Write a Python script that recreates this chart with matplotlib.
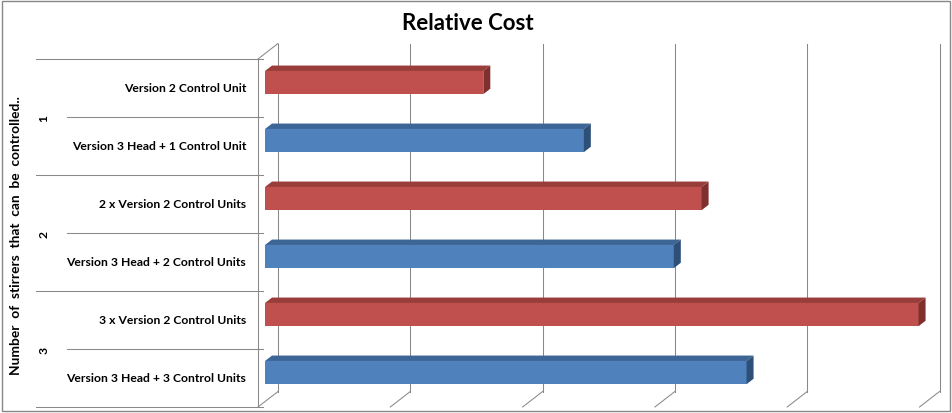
"""Relative cost of stirrer control options, drawn as an Excel-style 3D bar chart."""

import matplotlib

matplotlib.use("Agg")
import matplotlib.pyplot as plt  # noqa: E402
from matplotlib.patches import Polygon, Rectangle  # noqa: E402

# ---- data -------------------------------------------------------------
group_labels = ["1", "2", "3"]
option_labels = [
    "Version 2 Control Unit",
    "Version 3 Head + 1 Control Unit",
    "2 x Version 2 Control Units",
    "Version 3 Head + 2 Control Units",
    "3 x Version 2 Control Units",
    "Version 3 Head + 3 Control Units",
]
option_series = ["v2", "v3", "v2", "v3", "v2", "v3"]
relative_cost = [1.65, 2.41, 3.30, 3.09, 4.94, 3.64]
n_gridlines = 6  # value gridlines 0..5
axis_title = "Number  of  stirrers  that  can  be  controlled.."

# ---- styling ----------------------------------------------------------
FACE = {"v2": "#C0504D", "v3": "#4F81BD"}
TOP = {"v2": "#983D3A", "v3": "#3D6596"}
SIDE = {"v2": "#7F302E", "v3": "#2E5078"}
GRID = "#898989"
FONT = ["Lato", "DejaVu Sans"]

W, H, DPI = 953, 414, 100
X0_PX, UNIT_PX = 258.0, 132.3      # front plane: value 0 and one value unit
FLOOR_PX, SLOT_PX = 408.0, 58.0    # front plane: floor and one category slot
DEPTH_PX = (20.0, 15.5)            # full depth offset of the 3D box
DX, DY = DEPTH_PX[0] / UNIT_PX, DEPTH_PX[1] / SLOT_PX
BAR_D0, BAR_D1 = 0.35, 0.70        # bar front / back depth
BAR_H = 0.40
LABEL_SIZE = 8.7


def px_x(px):
    return (px - X0_PX) / UNIT_PX


def px_y(py):
    return (FLOOR_PX - py) / SLOT_PX


fig = plt.figure(figsize=(W / DPI, H / DPI), dpi=DPI)
ax = fig.add_axes([0, 0, 1, 1])
ax.set_xlim(px_x(0), px_x(W))
ax.set_ylim(px_y(H), px_y(0))
ax.axis("off")

n_slots = len(option_labels)
top = float(n_slots)
lw = 0.75

# back wall gridlines and floor diagonals
for k in range(n_gridlines):
    ax.plot([k + DX, k + DX], [DY, top + DY], color=GRID, lw=lw, zorder=1)
    ax.plot([k, k + DX], [0, DY], color=GRID, lw=lw, zorder=1)

# left wall: front axis line and top edge
ax.plot([0, 0], [0, top], color=GRID, lw=lw, zorder=1)
ax.plot([0, DX], [top, top + DY], color=GRID, lw=lw, zorder=1)

# category tick lines: group boundaries reach further left
for k in range(n_slots + 1):
    x_start = px_x(36) if k % 2 == 0 else px_x(67)
    ax.plot([x_start, px_x(263)], [k, k], color=GRID, lw=lw, zorder=1)

# bars (top option first)
for i, (label, series, value) in enumerate(zip(option_labels, option_series, relative_cost)):
    yc = top - i - 0.5
    y0, y1 = yc - BAR_H / 2, yc + BAR_H / 2
    fx, fy = BAR_D0 * DX, BAR_D0 * DY
    bx, by = BAR_D1 * DX, BAR_D1 * DY
    ax.barh(yc + fy, value, height=BAR_H, left=fx, color=FACE[series], zorder=3)
    ax.add_patch(Polygon(
        [(fx, y1 + fy), (value + fx, y1 + fy), (value + bx, y1 + by), (bx, y1 + by)],
        closed=True, facecolor=TOP[series], edgecolor="none", zorder=3))
    ax.add_patch(Polygon(
        [(value + fx, y0 + fy), (value + fx, y1 + fy), (value + bx, y1 + by), (value + bx, y0 + by)],
        closed=True, facecolor=SIDE[series], edgecolor="none", zorder=3))
    ax.text(px_x(246), yc, label, ha="right", va="center", fontsize=LABEL_SIZE,
            fontweight="bold", family=FONT)

# group labels sit on the inner tick lines
for g, glabel in enumerate(group_labels):
    ax.text(px_x(44), top - 2 * g - 1, glabel, rotation=90, ha="center", va="center",
            fontsize=LABEL_SIZE, fontweight="bold", family=FONT)

ax.text(px_x(16), px_y(236), axis_title, rotation=90,
        ha="center", va="center", fontsize=9.9, fontweight="bold", family=FONT)

fig.text(468 / W, 1 - 24 / H, "Relative Cost", ha="center", va="center",
         fontsize=16, fontweight="bold", family=FONT)

# chart border
fig.patches.append(Rectangle((2 / W, 2 / H), 948 / W, 410 / H, transform=fig.transFigure,
                             fill=False, edgecolor="#878787", lw=1.0))

fig.savefig("out.png", dpi=DPI)
plt.close(fig)
